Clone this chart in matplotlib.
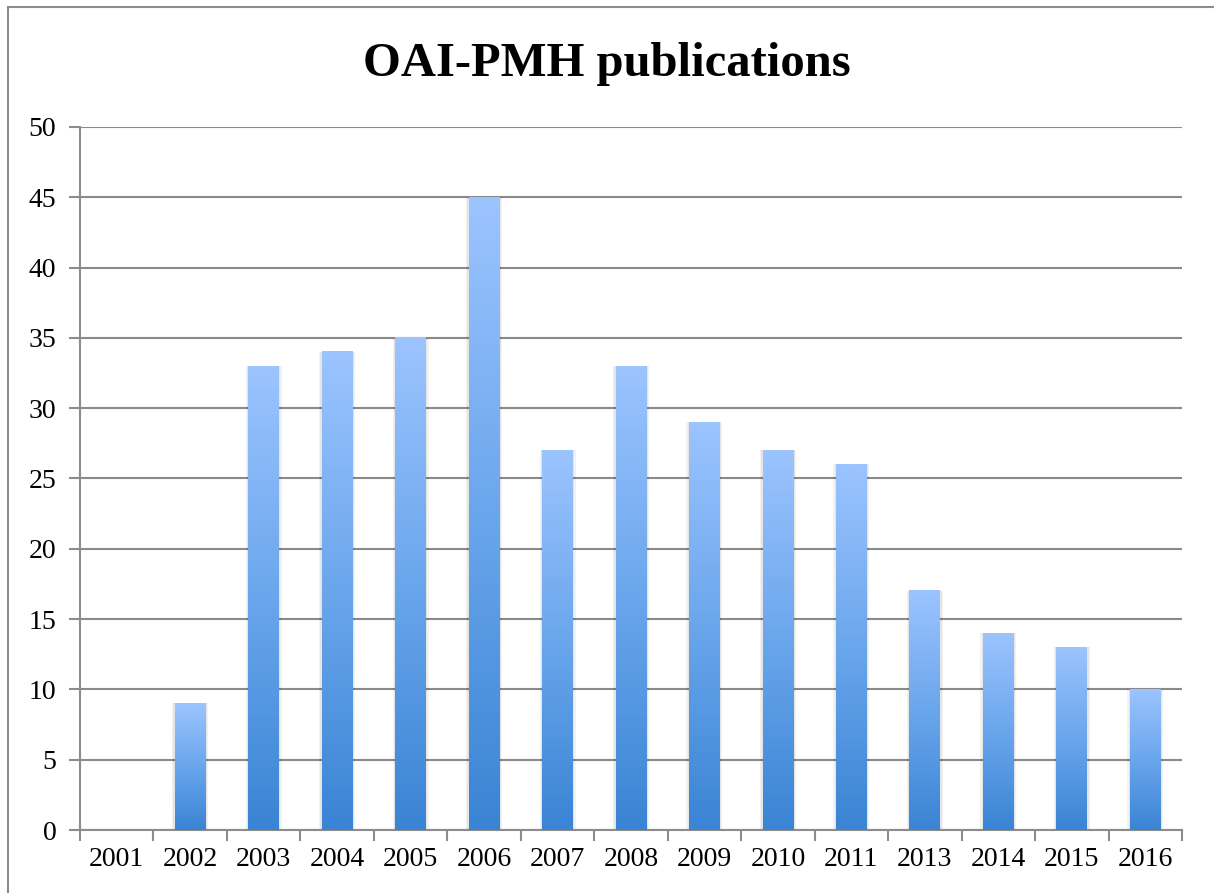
import numpy as np
import matplotlib.pyplot as plt
from matplotlib.colors import LinearSegmentedColormap
from matplotlib.patches import Rectangle

years = ['2001', '2002', '2003', '2004', '2005', '2006', '2007', '2008',
         '2009', '2010', '2011', '2013', '2014', '2015', '2016']
counts = [0, 9, 33, 34, 35, 45, 27, 33, 29, 27, 26, 17, 14, 13, 10]
y_ticks = [0, 5, 10, 15, 20, 25, 30, 35, 40, 45, 50]

plt.rcParams['font.family'] = ['Liberation Serif', 'DejaVu Serif']

W, H = 1214, 893
fig = plt.figure(figsize=(W / 100, H / 100), dpi=100)
fig.patches.append(Rectangle((8 / W, -0.1), 1.2, 1 - 7 / H + 0.1, transform=fig.transFigure,
                             fill=False, edgecolor='#8c8c8c', linewidth=1.5))

ax = fig.add_axes([80 / W, 1 - 830 / H, (1182 - 80) / W, (830 - 127) / H])

grad = LinearSegmentedColormap.from_list('bars', ['#3a84d4', '#6aa6ec', '#9cc4ff'])
g = np.linspace(0, 1, 256).reshape(-1, 1)
bw = 0.42
x = np.arange(len(years))
for xi, v in zip(x, counts):
    if v <= 0:
        continue
    # soft shadow around the bar
    ax.bar(xi, v, width=bw + 0.07, color='#000000', alpha=0.05, zorder=2, linewidth=0)
    ax.bar(xi, v, width=bw + 0.035, color='#000000', alpha=0.05, zorder=2, linewidth=0)
    ax.imshow(g, cmap=grad, origin='lower', aspect='auto',
              extent=(xi - bw / 2, xi + bw / 2, 0, v), zorder=3)

ax.set_xlim(-0.5, len(years) - 0.5)
ax.set_ylim(0, 50)
ax.set_yticks(y_ticks)
ax.set_xticks(x)
ax.set_xticklabels(years)
ax.set_xticks(np.arange(-0.5, len(years)), minor=True)
ax.tick_params(axis='x', which='major', length=0, pad=12, labelsize=20)
ax.tick_params(axis='x', which='minor', length=8, width=1.5, color='#8c8c8c')
ax.tick_params(axis='y', length=8, width=1.5, color='#8c8c8c', pad=9, labelsize=20)
ax.yaxis.grid(True, color='#8a8a8a', linewidth=1.5, zorder=1)
ax.set_axisbelow(True)
for s in ['top', 'right']:
    ax.spines[s].set_visible(False)
for s in ['left', 'bottom']:
    ax.spines[s].set_color('#8c8c8c')
    ax.spines[s].set_linewidth(1.5)

fig.text(0.5, 1 - 64 / H, 'OAI-PMH publications', ha='center', va='center',
         fontsize=35, fontweight='bold')

fig.savefig('out.png', dpi=100)
